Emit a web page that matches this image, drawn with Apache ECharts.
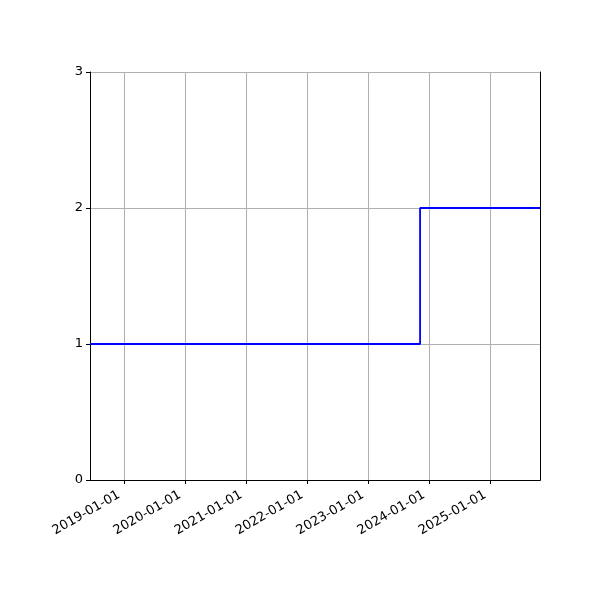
<!DOCTYPE html>
<html>
<head>
<meta charset="utf-8">
<script src="https://cdn.jsdelivr.net/npm/echarts@6/dist/echarts.min.js"></script>
<style>html,body{margin:0;padding:0;background:#fff}#c{width:600px;height:600px}</style>
</head>
<body>
<div id="c"></div>
<script>
const dates = ['2018-06-10', '2023-11-07', '2025-10-25'];
const values = [1, 2, 2];
const xMin = '2018-06-10';
const xMax = '2025-10-25';
const yTicks = [0, 1, 2, 3];

const chart = echarts.init(document.getElementById('c'), null, {renderer: 'canvas'});
const font = 'DejaVu Sans';
const frameAxis = {
  axisLine: {show: true, lineStyle: {color: '#000', width: 1}},
  axisTick: {show: false}, axisLabel: {show: false}, splitLine: {show: false}
};
chart.setOption({
  animation: false,
  backgroundColor: '#ffffff',
  grid: {left: 90, right: 60, top: 72, bottom: 120, show: false, containLabel: false},
  xAxis: [{
    type: 'time',
    min: xMin, max: xMax,
    minInterval: 365 * 86400000,
    maxInterval: 366 * 86400000,
    axisLine: {show: true, lineStyle: {color: '#000', width: 1}},
    axisTick: {show: true, length: 4, lineStyle: {color: '#000'}},
    axisLabel: {formatter: '{yyyy}-{MM}-{dd}', rotate: 30, color: '#000', fontFamily: font, fontSize: 13, margin: 11, padding: [0, 6, 0, 0], showMinLabel: false, showMaxLabel: false},
    splitLine: {show: true, lineStyle: {color: '#b0b0b0', width: 1}}
  }, Object.assign({type: 'time', position: 'top', min: xMin, max: xMax}, frameAxis)],
  yAxis: [{
    type: 'value', min: yTicks[0], max: yTicks[yTicks.length - 1], interval: 1,
    axisLine: {show: true, lineStyle: {color: '#000'}},
    axisTick: {show: true, length: 4, lineStyle: {color: '#000'}},
    axisLabel: {color: '#000', fontFamily: font, fontSize: 13, margin: 7},
    splitLine: {show: true, lineStyle: {color: '#b0b0b0', width: 1}}
  }, Object.assign({type: 'value', position: 'right', min: yTicks[0], max: yTicks[yTicks.length - 1]}, frameAxis)],
  series: [{
    type: 'line', step: 'end', symbol: 'none',
    lineStyle: {color: '#0000ff', width: 1.8},
    data: dates.map((d, i) => [d, values[i]])
  }]
});
</script>
</body>
</html>
